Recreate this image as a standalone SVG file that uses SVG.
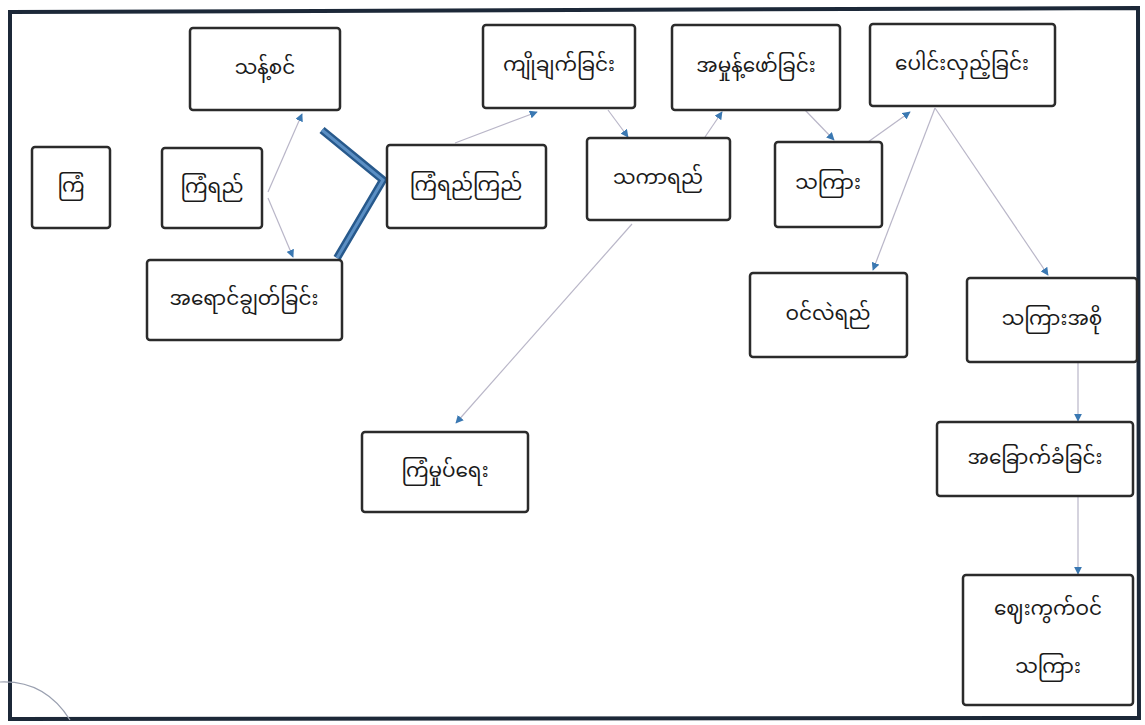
<svg xmlns="http://www.w3.org/2000/svg" width="1145" height="725" viewBox="0 0 1145 725">
<style>
.n rect{fill:#fff;stroke:#2b2b2b;stroke-width:2.5}
.n text{font-family:"Noto Sans Myanmar","Padauk","Myanmar Text","Noto Sans",sans-serif;font-size:20px;fill:#1a1a1a;text-anchor:middle;dominant-baseline:central}
.c line{stroke:#b9b6c8;stroke-width:1.2;marker-end:url(#ah)}
</style>
<defs>
<marker id="ah" viewBox="0 0 10 10" refX="9" refY="5" markerWidth="8" markerHeight="8" markerUnits="userSpaceOnUse" orient="auto">
<path d="M0,0 L10,5 L0,10 z" fill="#3a78b2"/>
</marker>
</defs>
<rect x="0" y="0" width="1145" height="725" fill="#fff"/>
<path d="M10,12 L1138,8 L1139,718 L10,719 Z" fill="none" stroke="#1c2838" stroke-width="4"/>
<path d="M0,682 Q45,680 70,720" fill="none" stroke="#9aa0b0" stroke-width="1.2"/>
<g class="c" id="connectors">
<line x1="268" y1="192" x2="302" y2="114"/>
<line x1="268" y1="198" x2="293" y2="257"/>
<line x1="455" y1="143" x2="537" y2="112"/>
<line x1="608" y1="110" x2="628" y2="137"/>
<line x1="705" y1="137" x2="722" y2="112"/>
<line x1="805" y1="110" x2="834" y2="140"/>
<line x1="868" y1="142" x2="910" y2="112"/>
<line x1="935" y1="108" x2="873" y2="270"/>
<line x1="935" y1="108" x2="1048" y2="275"/>
<line x1="1078" y1="363" x2="1078" y2="421"/>
<line x1="1078" y1="497" x2="1078" y2="574"/>
<line x1="632" y1="224" x2="456" y2="423"/>
</g>
<g id="chevron">
<polyline points="322,130 383,180 337,258" fill="none" stroke="#27598c" stroke-width="8" stroke-linejoin="miter"/>
<polyline points="322,130 383,180 337,258" fill="none" stroke="#5b8fc4" stroke-width="3"/>
</g>
<g class="n" id="n1"><rect x="32" y="147" width="78" height="81" rx="3"/><text x="71" y="187">ကြံ</text></g>
<g class="n" id="n2"><rect x="162" y="148" width="100" height="80" rx="3"/><text x="212" y="188">ကြံရည်</text></g>
<g class="n" id="n3"><rect x="190" y="28" width="150" height="82" rx="3"/><text x="265" y="69">သန့်စင်</text></g>
<g class="n" id="n4"><rect x="147" y="260" width="195" height="80" rx="3"/><text x="244" y="300">အရောင်ချွတ်ခြင်း</text></g>
<g class="n" id="n5"><rect x="387" y="145" width="159" height="83" rx="3"/><text x="466" y="186">ကြံရည်ကြည်</text></g>
<g class="n" id="n6"><rect x="483" y="25" width="152" height="83" rx="3"/><text x="559" y="66">ကျိုချက်ခြင်း</text></g>
<g class="n" id="n7"><rect x="672" y="25" width="168" height="85" rx="3"/><text x="756" y="67">အမှုန့်ဖော်ခြင်း</text></g>
<g class="n" id="n8"><rect x="870" y="24" width="185" height="82" rx="3"/><text x="962" y="65">ပေါင်းလှည့်ခြင်း</text></g>
<g class="n" id="n9"><rect x="587" y="138" width="143" height="82" rx="3"/><text x="658" y="179">သကာရည်</text></g>
<g class="n" id="n10"><rect x="775" y="142" width="107" height="85" rx="3"/><text x="828" y="184">သကြား</text></g>
<g class="n" id="n11"><rect x="750" y="273" width="157" height="84" rx="3"/><text x="828" y="315">ဝင်လဲရည်</text></g>
<g class="n" id="n12"><rect x="967" y="278" width="170" height="84" rx="3"/><text x="1052" y="320">သကြားအစို</text></g>
<g class="n" id="n13"><rect x="937" y="422" width="196" height="74" rx="3"/><text x="1035" y="459">အခြောက်ခံခြင်း</text></g>
<g class="n" id="n14"><rect x="963" y="575" width="170" height="130" rx="3"/><text x="1048" y="610">ဈေးကွက်ဝင်</text><text x="1048" y="668">သကြား</text></g>
<g class="n" id="n15"><rect x="362" y="432" width="166" height="80" rx="3"/><text x="445" y="472">ကြံမှုပ်ရေး</text></g>
</svg>
